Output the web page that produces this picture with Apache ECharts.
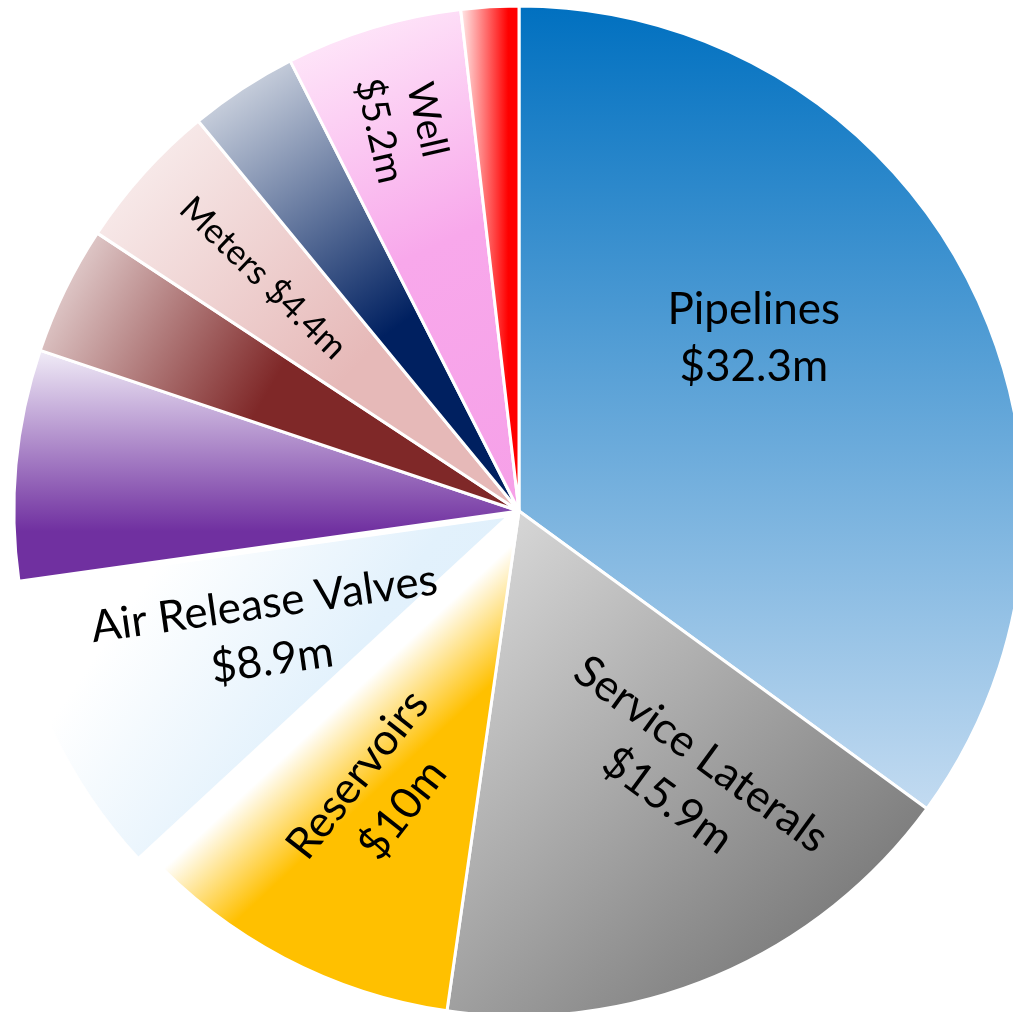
<!DOCTYPE html>
<html>
<head>
<meta charset="utf-8">
<script src="https://cdn.jsdelivr.net/npm/echarts@6/dist/echarts.min.js"></script>
<style>
  html, body { margin: 0; padding: 0; background: #ffffff; }
  #chart { width: 1013px; height: 1012px; }
</style>
</head>
<body>
<div id="chart"></div>
<script>
// Capital cost by asset class, in $ millions (clockwise from 12 o'clock)
const categories = [
  'Pipelines', 'Service Laterals', 'Reservoirs', 'Air Release Valves',
  'Other 1', 'Other 2', 'Meters', 'Other 3', 'Well', 'Other 4'
];
const costs = [32.3, 15.9, 10, 8.9, 6.8, 3.8, 4.4, 3.2, 5.2, 1.7];
const labelled = [true, true, true, true, false, false, true, false, true, false];
const pulledOut = 'Air Release Valves';

// Gradient fill for each slice (coordinates relative to the slice's bounding box)
const fills = [
  { x: 0, y: 0, x2: 0, y2: 1,   stops: [[0, '#0070C0'], [1, '#C3DBF1']] },
  { x: 0, y: 0, x2: 1, y2: 1,   stops: [[0, '#DFDFDF'], [0.8, '#7E7E7E'], [1, '#7E7E7E']] },
  { x: 0, y: 0, x2: 1, y2: 0.8, stops: [[0, '#FFFFFF'], [0.5, '#FFFFFF'], [0.66, '#FFC000'], [1, '#FFC000']] },
  { x: 0, y: 0, x2: 1, y2: 1,   stops: [[0, '#FFFFFF'], [0.25, '#FFFFFF'], [0.6, '#E2F1FC'], [1, '#DDEEFB']] },
  { x: 0, y: 0, x2: 0, y2: 1,   stops: [[0, '#F2EEF8'], [0.78, '#7030A0'], [1, '#7030A0']] },
  { x: 0, y: 0, x2: 1, y2: 1,   stops: [[0, '#F2E8E8'], [0.5, '#7F2828'], [1, '#7F2828']] },
  { x: 0, y: 0, x2: 1, y2: 1,   stops: [[0, '#FBF4F4'], [0.62, '#E6B9B8'], [1, '#E6B9B8']] },
  { x: 0, y: 0, x2: 1, y2: 1,   stops: [[0, '#E8EBF0'], [0.6, '#002060'], [1, '#002060']] },
  { x: 0, y: 0, x2: 1, y2: 1,   stops: [[0, '#FFF0FB'], [0.5, '#F8A8EB'], [1, '#F6A0E8']] },
  { x: 0, y: 0, x2: 1, y2: 0,   stops: [[0, '#FFF2F2'], [0.8, '#FF0000'], [1, '#FF0000']] }
];

// Label styling per slice: rotation (deg), font size, single line,
// and a screen-space nudge (px) away from the default inside spot
const labelStyles = [
  { rotate: 0,   size: 44, oneLine: false, nx: 7,   ny: -57 },
  { rotate: -36, size: 44, oneLine: false, nx: 66,  ny: 31 },
  { rotate: 52,  size: 44, oneLine: false, nx: -20, ny: 55 },
  { rotate: 8,   size: 44, oneLine: false, nx: -10, ny: 7 },
  null, null,
  { rotate: -44, size: 35, oneLine: true,  nx: -66, ny: -62 },
  null,
  { rotate: -77, size: 38, oneLine: false, nx: -42, ny: -141 },
  null
];

function gradient(f) {
  return new echarts.graphic.LinearGradient(
    f.x, f.y, f.x2, f.y2,
    f.stops.map(([offset, color]) => ({ offset, color }))
  );
}

const pieData = categories.map((name, i) => {
  const ls = labelStyles[i];
  return {
    name,
    value: costs[i],
    selected: name === pulledOut,
    itemStyle: { color: gradient(fills[i]) },
    label: labelled[i] ? {
      show: true,
      rotate: ls.rotate,
      fontSize: ls.size,
      lineHeight: Math.round(ls.size * 1.3),
      formatter: p => ls.oneLine ? `${p.name} $${p.value}m` : `${p.name}\n$${p.value}m`
    } : { show: false }
  };
});

// The label offset is applied in the label's own (rotated) frame,
// so turn the screen-space nudge into that frame.
function localNudge(ls) {
  const r = ls.rotate * Math.PI / 180;
  const c = Math.cos(r), s = Math.sin(r);
  return { dx: ls.nx * c - ls.ny * s, dy: ls.nx * s + ls.ny * c };
}

const chart = echarts.init(document.getElementById('chart'), null, { renderer: 'canvas' });
chart.setOption({
  backgroundColor: '#ffffff',
  animation: false,
  series: [{
    type: 'pie',
    center: [519, 511],
    radius: 505,
    startAngle: 90,
    clockwise: true,
    selectedMode: 'single',
    selectedOffset: 11,
    avoidLabelOverlap: false,
    itemStyle: { borderColor: '#ffffff', borderWidth: 3 },
    label: {
      position: 'inside',
      color: '#000000',
      fontFamily: 'Lato',
      overflow: 'none'
    },
    labelLine: { show: false },
    emphasis: { disabled: true },
    labelLayout: params => {
      const ls = labelStyles[params.dataIndex];
      return ls ? localNudge(ls) : {};
    },
    data: pieData
  }]
});
</script>
</body>
</html>
